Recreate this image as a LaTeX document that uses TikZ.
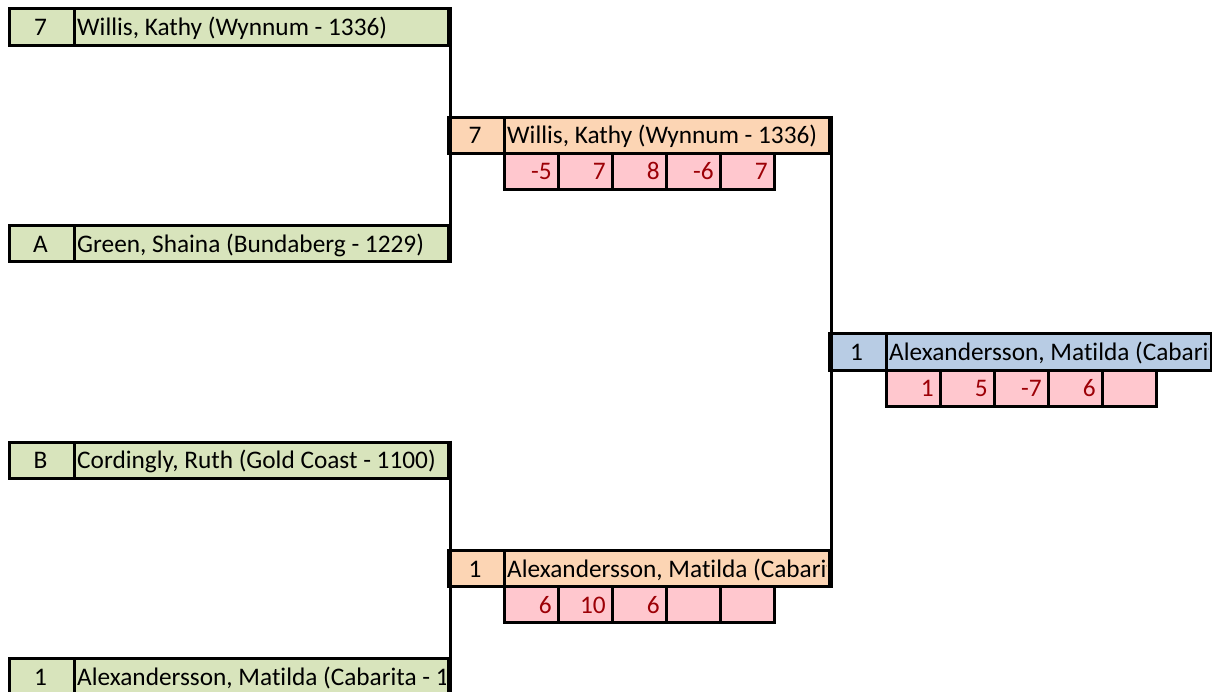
\documentclass[tikz,border=0pt]{standalone}
\usepackage{fontspec}
\setmainfont{Carlito}[Ligatures=NoCommon]
\definecolor{gfill}{HTML}{D8E4BC}
\definecolor{ofill}{HTML}{FCD5B4}
\definecolor{bfill}{HTML}{B8CCE4}
\definecolor{pfill}{HTML}{FFC7CE}
\definecolor{ptext}{HTML}{9C0006}
\newcommand\plr[8]{%
  \node[cell,fill=#6,minimum width={(#3-#2)*1pt}] (#1s) at (#2,#5) {};
  \node[cell,fill=#6,minimum width={(#4-#3)*1pt}] (#1n) at (#3,#5) {};
  \node[txt,anchor=base] (#1st) at ({(#2+#3)/2},#5+28) {#7};
  \begin{scope}
    \clip (#3+1.5,#5+1.5) rectangle (#4-1.5,#5+34.6);
    \node[txt,anchor=base west] (#1nt) at (#3+4,#5+28) {#8};
  \end{scope}}
\newcommand\scr[4]{%
  \node[cell,fill=pfill,minimum width=54pt] (#1) at (#2,#3) {};
  \node[stxt,anchor=base east] (#1t) at (#2+49,#3+28) {#4};}
\begin{document}
\begin{tikzpicture}[x=1pt,y=-1pt,
  cell/.style={draw=black,line width=3pt,rectangle,anchor=north west,inner sep=0pt,minimum height=36.1pt},
  txt/.style={inner sep=0pt,font=\fontsize{25.3pt}{30pt}\selectfont,text=black},
  stxt/.style={inner sep=0pt,font=\fontsize{25.3pt}{30pt}\selectfont,text=ptext},
  conn/.style={draw=black,line width=3pt}]
\useasboundingbox (0,0) rectangle (1212,692);
\fill[white] (0,0) rectangle (1212,692);
% first round
\plr{ra}{8}{73}{447}{7.5}{gfill}{7}{Willis, Kathy (Wynnum - 1336)}
\plr{rb}{8}{73}{447}{224.1}{gfill}{A}{Green, Shaina (Bundaberg - 1229)}
\plr{rc}{8}{73}{447}{440.7}{gfill}{B}{Cordingly, Ruth (Gold Coast - 1100)}
\plr{rd}{8}{73}{447}{657.3}{gfill}{1}{Alexandersson, Matilda (Cabarita - 1100)}
% semi finals
\plr{sa}{447}{503}{828}{115.8}{ofill}{7}{Willis, Kathy (Wynnum - 1336)}
\scr{sa1}{503}{151.9}{-5}
\scr{sa2}{557}{151.9}{7}
\scr{sa3}{611}{151.9}{8}
\scr{sa4}{665}{151.9}{-6}
\scr{sa5}{719}{151.9}{7}
\plr{sb}{447}{503}{828}{549}{ofill}{1}{Alexandersson, Matilda (Cabarita - 1100)}
\scr{sb1}{503}{585.1}{6}
\scr{sb2}{557}{585.1}{10}
\scr{sb3}{611}{585.1}{6}
\scr{sb4}{665}{585.1}{}
\scr{sb5}{719}{585.1}{}
% final
\plr{fa}{828}{885}{1210}{332.4}{bfill}{1}{Alexandersson, Matilda (Cabarita - 1100)}
\scr{fa1}{885}{368.5}{1}
\scr{fa2}{939}{368.5}{5}
\scr{fa3}{993}{368.5}{-7}
\scr{fa4}{1047}{368.5}{6}
\scr{fa5}{1101}{368.5}{}
% connectors
\draw[conn] (ran.north east) -- (rbn.south east);
\draw[conn] (rcn.north east) -- (rdn.south east);
\draw[conn] (san.north east) -- (sbn.south east);
\end{tikzpicture}
\end{document}
